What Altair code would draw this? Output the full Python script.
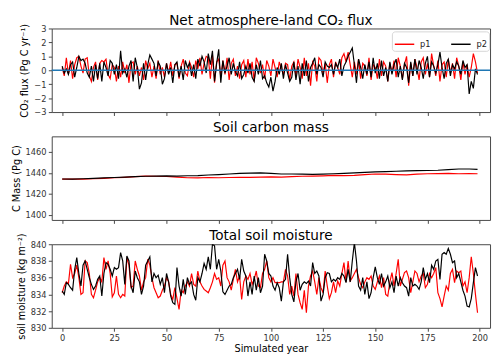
import altair as alt
import pandas as pd

years = list(range(200))

flux_p1 = [
    0.2, -0.4, 0.9, -0.3, 0.7, -0.6, 0.4, 0.9, 1.0, 0.3,
    -0.2, 0.8, 0.9, -0.4, -0.8, 0.2, 0.6, -0.7, 0.5, 0.7,
    0.6, 0.8, -0.3, -0.6, 0.4, 0.2, -0.8, 0.3, -0.5, 0.6,
    -0.2, 0.4, -0.9, 0.5, 0.6, -0.3, 0.3, -0.4, 0.2, -0.7,
    0.7, 0.1, 0.5, -0.5, 0.3, -0.6, 0.7, -0.3, 0.2, -0.5,
    0.5, -0.2, 0.6, -0.4, 0.4, 0.5, -0.6, 0.3, 0.8, -0.2,
    -0.4, 0.6, 0.2, -0.5, 0.7, 0.1, 0.9, -0.3, 0.5, 1.0,
    0.9, -0.6, 1.1, -0.9, 0.6, 0.8, -0.5, 0.7, -0.3, 0.9,
    -0.7, 0.5, 0.8, -0.4, 0.3, -0.6, 0.4, 0.7, -0.5, 0.8,
    -0.3, 0.6, -0.8, 0.9, 0.5, -0.2, 0.4, -0.6, 0.7, 0.3,
    -0.4, 0.8, 0.2, -0.5, 0.6, 0.1, -0.3, 0.5, 0.4, -0.7,
    0.3, 0.6, -0.4, 0.8, 0.2, -0.6, 0.9, -0.4, 0.5, -1.1,
    0.6, 0.3, -0.8, 0.9, 0.7, -0.3, 0.5, -0.9, 0.4, 0.8,
    -0.5, 0.6, 0.2, -0.3, 0.9, 1.2, 0.6, 1.3, 0.4, -0.5,
    0.6, -0.3, 0.8, -0.6, 0.5, 0.3, -0.4, 0.9, -0.7, 0.4,
    0.2, -0.6, 0.8, -0.4, 0.6, 0.3, -0.8, 0.5, -0.2, 0.7,
    -0.5, 0.9, 0.3, -0.6, 0.4, 1.0, -1.1, 0.5, -0.4, 0.8,
    0.2, -0.7, 0.6, 0.9, -0.3, 0.5, -0.5, 1.2, 0.3, -0.4,
    0.7, -0.8, 0.4, 0.6, -0.5, 0.8, -0.2, 0.5, -0.6, 0.9,
    0.3, -0.7, 0.6, -0.3, 0.4, -0.5, 0.2, 1.2, 0.6, -0.2,
]

flux_p2 = [
    0.3, -0.2, 0.1, -0.3, 0.4, 0.6, -0.5, 0.2, 1.0, 0.7,
    0.8, 0.5, -0.2, -0.5, 0.3, -0.8, 0.4, -0.6, 0.5, -0.8,
    0.6, 0.2, -0.4, 0.7, 0.5, -0.3, 0.4, -0.6, 1.4, -0.2,
    0.1, -0.5, 0.3, 0.7, -0.8, 0.9, 0.2, -1.35, -0.9, 0.5,
    -0.7, 0.4, 1.1, 0.8, 0.5, -0.4, 0.6, 0.3, -1.0, -0.6,
    0.5, -0.3, 0.2, -0.9, 0.4, 0.6, -0.5, 0.3, -0.7, 0.7,
    0.2, 0.5, -0.4, 0.4, -0.6, 0.8, 0.3, 1.0, 0.6, -0.2,
    1.2, 0.4, 1.4, -0.8, 0.5, 1.5, -0.9, 0.7, -0.2, 0.3,
    0.9, -0.3, 0.5, -0.1, -0.4, 0.6, -0.6, -0.3, 0.3, -0.2,
    0.5, -0.5, -0.8, 0.4, -0.3, 0.7, -0.6, -0.4, -0.9, -1.2,
    -0.5, -1.5, -0.8, 0.2, -0.3, 0.5, -0.6, 0.4, -0.2, -0.8,
    -0.5, 0.6, -0.7, 0.3, -1.0, 0.5, -0.4, 0.7, -0.8, 0.2,
    0.5, 0.9, -0.3, 0.4, 0.2, -0.5, 0.6, 0.3, 0.2, 0.4,
    -0.3, 0.5, 0.2, 0.8, -0.4, 0.3, 0.6, 1.0, 1.3, 1.6,
    0.4, -0.9, 0.8, 0.2, -0.6, 0.4, -0.3, 0.6, -0.5, 0.9,
    -0.2, 0.5, -0.6, 0.7, -0.4, 0.2, -0.8, 0.6, -0.3, 0.4,
    0.8, -0.5, 0.3, -0.7, 0.5, 0.2, -0.9, 0.6, -0.4, 0.8,
    -0.3, 0.7, 0.2, -0.6, 0.5, 1.0, -0.5, 0.6, 0.3, -0.2,
    0.4, 1.3, 0.2, -0.6, 0.5, 0.8, -0.4, 0.4, 0.1, 0.6,
    0.3, -0.3, 0.7, 0.2, 0.4, -1.7, -0.8, -1.3, 0.1, -0.3,
]

carbon_years = list(range(0, 200, 5)) + [199]
carbon_p1 = [
    1434.0, 1434.2, 1434.0, 1434.4, 1434.8, 1435.4, 1435.8, 1436.4, 1437.0, 1436.8,
    1436.6, 1436.0, 1435.4, 1435.2, 1435.6, 1435.4, 1435.6, 1435.8, 1435.8, 1436.0,
    1436.2, 1436.0, 1436.4, 1436.8, 1437.0, 1437.2, 1437.6, 1437.4, 1437.6, 1438.4,
    1439.0, 1438.8, 1438.4, 1438.2, 1438.8, 1439.2, 1439.4, 1439.6, 1439.2, 1439.3,
    1439.2,
]
carbon_p2 = [
    1434.2, 1434.0, 1434.4, 1434.8, 1435.2, 1435.6, 1436.0, 1436.4, 1436.8, 1437.0,
    1437.2, 1437.0, 1437.3, 1437.5, 1438.0, 1438.4, 1439.0, 1439.6, 1439.8, 1440.0,
    1439.6, 1439.0, 1439.0, 1438.8, 1438.6, 1438.8, 1439.2, 1439.6, 1440.0, 1440.6,
    1441.0, 1441.2, 1441.6, 1442.0, 1442.2, 1442.3, 1442.6, 1443.2, 1443.8, 1443.8,
    1443.4,
]

moist_p1 = [
    834.2, 835.0, 835.5, 835.3, 837.6, 836.0, 836.5, 837.5, 836.0, 834.0,
    834.2, 838.0, 837.8, 836.5, 834.0, 833.6, 834.5, 835.5, 836.0, 835.5,
    838.4, 837.0, 838.0, 836.5, 833.7, 834.2, 836.2, 834.0, 833.6, 834.0,
    833.8, 838.4, 837.5, 834.8, 835.0, 838.0, 837.0, 836.2, 834.5, 835.5,
    836.0, 838.2, 837.5, 836.0, 834.8, 834.2, 833.6, 833.8, 834.5, 835.0,
    836.0, 835.5, 834.0, 833.4, 834.8, 833.5, 832.2, 834.5, 834.2, 835.0,
    835.5, 835.0, 836.5, 835.2, 835.0, 836.8, 835.5, 835.0, 834.6, 834.4,
    834.2, 834.8, 835.5, 836.5, 835.8, 836.0, 835.0, 837.5, 838.0, 836.0,
    835.5, 834.5, 835.8, 837.0, 835.5, 836.2, 833.4, 835.5, 836.2, 835.8,
    836.5, 835.2, 835.8, 836.8, 835.0, 834.8, 836.5, 837.0, 838.0, 836.0,
    835.5, 836.0, 835.4, 835.4, 835.4, 835.5, 835.5, 837.0, 836.2, 834.0,
    835.0, 833.8, 836.5, 834.0, 833.0, 832.2, 834.5, 831.8, 835.0, 836.2,
    836.8, 835.5, 834.0, 836.0, 834.8, 834.2, 836.8, 835.0, 833.5, 834.2,
    835.5, 834.2, 835.6, 835.0, 836.5, 837.8, 835.5, 838.0, 835.6, 836.0,
    836.5, 837.0, 836.0, 835.2, 834.8, 835.5, 836.0, 835.8, 836.2, 835.0,
    834.6, 835.5, 836.2, 834.8, 836.0, 834.0, 833.8, 835.5, 836.6, 835.0,
    836.5, 838.2, 835.0, 835.8, 836.6, 836.8, 836.0, 834.2, 835.5, 836.8,
    836.5, 835.5, 836.2, 836.5, 834.8, 835.2, 836.5, 836.0, 836.5, 837.2,
    834.2, 833.5, 832.5, 833.8, 835.0, 834.5, 836.5, 837.0, 835.4, 836.8,
    836.6, 836.8, 835.0, 835.5, 834.2, 836.0, 838.5, 836.5, 834.0, 831.8,
]

moist_p2 = [
    834.4, 834.0, 835.4, 835.2, 834.8, 834.5, 837.0, 838.4, 836.5, 835.0,
    837.5, 838.0, 837.0, 836.0, 835.2, 834.6, 835.0, 835.8, 836.2, 833.8,
    836.5, 837.8, 837.6, 837.0, 836.2, 837.2, 837.0, 837.2, 839.0, 838.0,
    835.2, 838.6, 838.0, 835.0, 834.2, 836.8, 836.0, 835.5, 834.0, 835.0,
    837.5, 838.0, 838.5, 835.5, 836.5, 836.0, 836.3, 835.2, 836.0, 834.2,
    836.5, 835.5, 833.8, 833.0, 832.8, 837.2, 835.0, 833.8, 835.8, 834.0,
    836.0, 835.2, 835.5, 834.0, 833.3, 836.0, 835.5, 836.5, 837.7, 837.0,
    838.5, 837.0, 840.0, 839.8, 837.0, 838.2, 836.8, 834.3, 834.0, 834.5,
    835.0, 835.2, 836.0, 836.5, 837.0, 835.8, 838.2, 836.8, 836.2, 833.8,
    835.5, 834.0, 836.2, 834.5, 836.0, 834.2, 835.0, 838.8, 838.0, 836.5,
    836.2, 835.0, 834.5, 835.4, 834.8, 833.2, 835.5, 835.8, 838.8, 836.0,
    834.0, 833.1, 835.5, 836.5, 834.5, 835.2, 835.5, 835.3, 835.6, 835.0,
    837.8, 836.5, 836.8, 836.2, 833.2, 834.0, 836.0, 836.6, 836.5, 835.5,
    835.8, 835.6, 836.0, 835.8, 836.5, 836.2, 835.4, 837.0, 835.5, 838.0,
    840.2, 838.0, 835.0, 834.5, 836.0, 834.0, 835.5, 833.5, 834.2, 836.0,
    837.3, 836.0, 835.2, 836.5, 835.0, 835.5, 836.2, 834.8, 835.5, 834.2,
    836.2, 835.0, 836.0, 835.4, 835.0, 834.8, 833.8, 836.0, 835.0, 835.2,
    835.0, 834.6, 835.5, 837.2, 835.8, 836.5, 835.4, 837.5, 837.0, 838.0,
    838.2, 835.8, 838.8, 839.0, 838.8, 839.5, 838.8, 837.8, 838.0, 836.0,
    836.5, 835.5, 834.5, 833.8, 832.6, 832.5, 833.5, 835.4, 837.2, 836.2,
]

series_names = ["p1", "p2"]
series_colors = ["#ff0000", "#000000"]
x_ticks = list(range(0, 201, 25))
zero_line = [0]
panel_titles = ["Net atmosphere-land CO₂ flux", "Soil carbon mass", "Total soil moisture"]


def long_df(xs, a, b):
    rows = [{"year": x, "value": v, "run": "p1"} for x, v in zip(xs, a)]
    rows += [{"year": x, "value": v, "run": "p2"} for x, v in zip(xs, b)]
    return pd.DataFrame(rows)


flux_df = long_df(years, flux_p1, flux_p2)
carbon_df = long_df(carbon_years, carbon_p1, carbon_p2)
moist_df = long_df(years, moist_p1, moist_p2)
zero_df = pd.DataFrame({"value": zero_line})

W, H = 451, 86
xscale = alt.Scale(domain=[-5, 205], nice=False, zero=False)


def x_enc(show_labels):
    if show_labels:
        ax = alt.Axis(values=x_ticks, title="Simulated year", grid=False, domain=False,
                      tickSize=3.5, labelPadding=2.5, titlePadding=1.5)
    else:
        ax = alt.Axis(values=x_ticks, labels=False, title=None, grid=False, domain=False,
                      tickSize=3.5)
    return alt.X("year:Q", scale=xscale, axis=ax)


def y_axis(values, text):
    return alt.Axis(values=values, title=text, grid=False, domain=False, tickSize=3.5,
                    labelPadding=2.5, titlePadding=4, labelOverlap=False, format="d")


def color_enc(legend):
    return alt.Color("run:N", scale=alt.Scale(domain=series_names, range=series_colors),
                     legend=legend)


def title_mark(text):
    return alt.Chart(pd.DataFrame({"t": [text]})).mark_text(
        fontSize=14, font="DejaVu Sans", color="#000000", baseline="alphabetic",
        align="center", clip=False,
    ).encode(x=alt.value(W / 2), y=alt.value(-4), text="t:N")


legend_top = alt.Legend(
    title=None, orient="none", legendX=350, legendY=3, direction="horizontal",
    symbolType="stroke", symbolSize=400, symbolStrokeWidth=1.5, labelFontSize=8.5,
    labelColor="#222", columnPadding=18, labelOffset=5, padding=2,
    fillColor="white", strokeColor="#d5d5d5", cornerRadius=3,
)

flux_scale = alt.Scale(domain=[-3, 3], nice=False)
flux_axis = y_axis([-3, -2, -1, 0, 1, 2, 3], "CO₂ flux (Pg C yr⁻¹)")
flux_lines = alt.Chart(flux_df).mark_line(strokeWidth=1.2, clip=True).encode(
    x=x_enc(False),
    y=alt.Y("value:Q", scale=flux_scale, axis=flux_axis),
    color=color_enc(legend_top),
)
zero_rule = alt.Chart(zero_df).mark_rule(color="#1f77b4", strokeWidth=1.5).encode(
    y=alt.Y("value:Q", scale=flux_scale, axis=flux_axis)
)
top = alt.layer(flux_lines, zero_rule, title_mark(panel_titles[0])).properties(
    width=W, height=H
)

mid_lines = alt.Chart(carbon_df).mark_line(strokeWidth=1.2, clip=True).encode(
    x=x_enc(False),
    y=alt.Y("value:Q", scale=alt.Scale(domain=[1395, 1475], nice=False, zero=False),
            axis=y_axis([1400, 1420, 1440, 1460], "C Mass (Pg C)")),
    color=color_enc(None),
)
mid = alt.layer(mid_lines, title_mark(panel_titles[1])).properties(width=W, height=H)

bot_lines = alt.Chart(moist_df).mark_line(strokeWidth=1.2, clip=True).encode(
    x=x_enc(True),
    y=alt.Y("value:Q", scale=alt.Scale(domain=[830, 840], nice=False, zero=False),
            axis=y_axis([830, 832, 834, 836, 838, 840], "soil moisture (kg m⁻²)")),
    color=color_enc(None),
)
bot = alt.layer(bot_lines, title_mark(panel_titles[2])).properties(width=W, height=H)

chart = alt.vconcat(top, mid, bot, spacing=25, bounds="flush").resolve_scale(
    color="independent"
).properties(
    padding={"left": 2, "top": 0, "right": 0, "bottom": 0}
).configure(font="DejaVu Sans").configure_view(
    stroke="#444", strokeWidth=1
).configure_axis(
    labelFont="DejaVu Sans", labelFontSize=8.5, labelColor="#333",
    titleFont="DejaVu Sans", titleFontSize=10, titleFontWeight="normal", titleColor="#000",
    tickColor="#444",
)

chart.save("out.html", embed_options={"renderer": "svg", "actions": False})
